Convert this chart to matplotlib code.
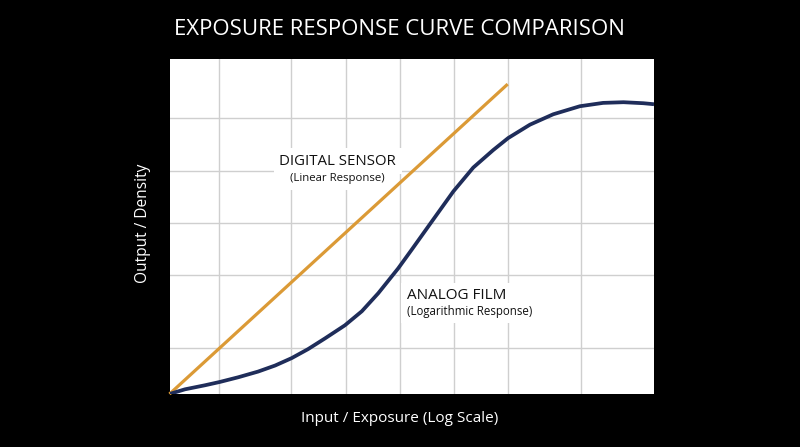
import matplotlib
matplotlib.use("Agg")
import matplotlib.pyplot as plt

plt.rcParams['font.family'] = ['Open Sans', 'DejaVu Sans']

# Data (normalised 0-10 units)
digital_x = [0.0, 6.98]
digital_y = [0.0, 9.25]

film_x = [0.0, 0.32, 0.73, 1.04, 1.42, 1.83, 2.18, 2.52, 2.86, 3.21, 3.62,
          3.97, 4.31, 4.72, 5.00, 5.38, 5.86, 6.27, 6.68, 6.99, 7.44, 7.92,
          8.47, 8.95, 9.37, 9.78, 10.0]
film_y = [0.0, 0.14, 0.26, 0.36, 0.50, 0.67, 0.85, 1.07, 1.34, 1.66, 2.05,
          2.47, 3.01, 3.75, 4.31, 5.08, 6.05, 6.76, 7.28, 7.64, 8.04, 8.35,
          8.59, 8.69, 8.71, 8.68, 8.65]

grid_x = [1.02, 2.51, 3.64, 4.76, 5.87, 6.99, 8.49]
grid_y = [1.37, 3.55, 5.10, 6.66, 8.24]

title = "EXPOSURE RESPONSE CURVE COMPARISON"
xlabel = "Input / Exposure (Log Scale)"
ylabel = "Output / Density"

fig = plt.figure(figsize=(8, 4.47), dpi=100, facecolor='black')
ax = fig.add_axes([169.5 / 800, 53 / 447, 484.5 / 800, 335 / 447])
ax.set_facecolor('white')
ax.set_xlim(0, 10)
ax.set_ylim(0, 10)
ax.set_xticks(grid_x)
ax.set_yticks(grid_y)
ax.tick_params(length=0, labelbottom=False, labelleft=False)
ax.grid(True, color='#cfcfcf', linewidth=1.0)
ax.set_axisbelow(True)
for s in ax.spines.values():
    s.set_visible(False)

ax.plot(digital_x, digital_y, color='#DB9A36', linewidth=2.3,
        solid_capstyle='butt', zorder=4, clip_on=False)
ax.plot(film_x, film_y, color='#1F2D5A', linewidth=2.7,
        solid_joinstyle='round', solid_capstyle='butt', zorder=4, clip_on=True)

box = dict(facecolor='white', edgecolor='none', pad=4)
ax.text(3.47, 6.95, "DIGITAL SENSOR", ha='center', va='center', fontsize=10.8,
        color='#111111', bbox=box, zorder=3)
ax.text(3.47, 6.43, "(Linear Response)", ha='center', va='center', fontsize=8.2,
        color='#111111', bbox=box, zorder=3)
ax.text(4.9, 2.93, "ANALOG FILM", ha='left', va='center', fontsize=11,
        color='#111111', bbox=box, zorder=3)
ax.text(4.9, 2.47, "(Logarithmic Response)", ha='left', va='center', fontsize=8.3,
        color='#111111', bbox=box, zorder=3)

fig.text(399 / 800, 1 - 29.5 / 447, title, ha='center', va='center',
         fontsize=16, color='white')
fig.text(400 / 800, 1 - 418 / 447, xlabel, ha='center', va='center',
         fontsize=11, color='white')
fig.text(143 / 800, 1 - 223 / 447, ylabel, ha='center', va='center',
         fontsize=11.2, color='white', rotation=90)

fig.savefig('out.png', dpi=100, facecolor='black')
